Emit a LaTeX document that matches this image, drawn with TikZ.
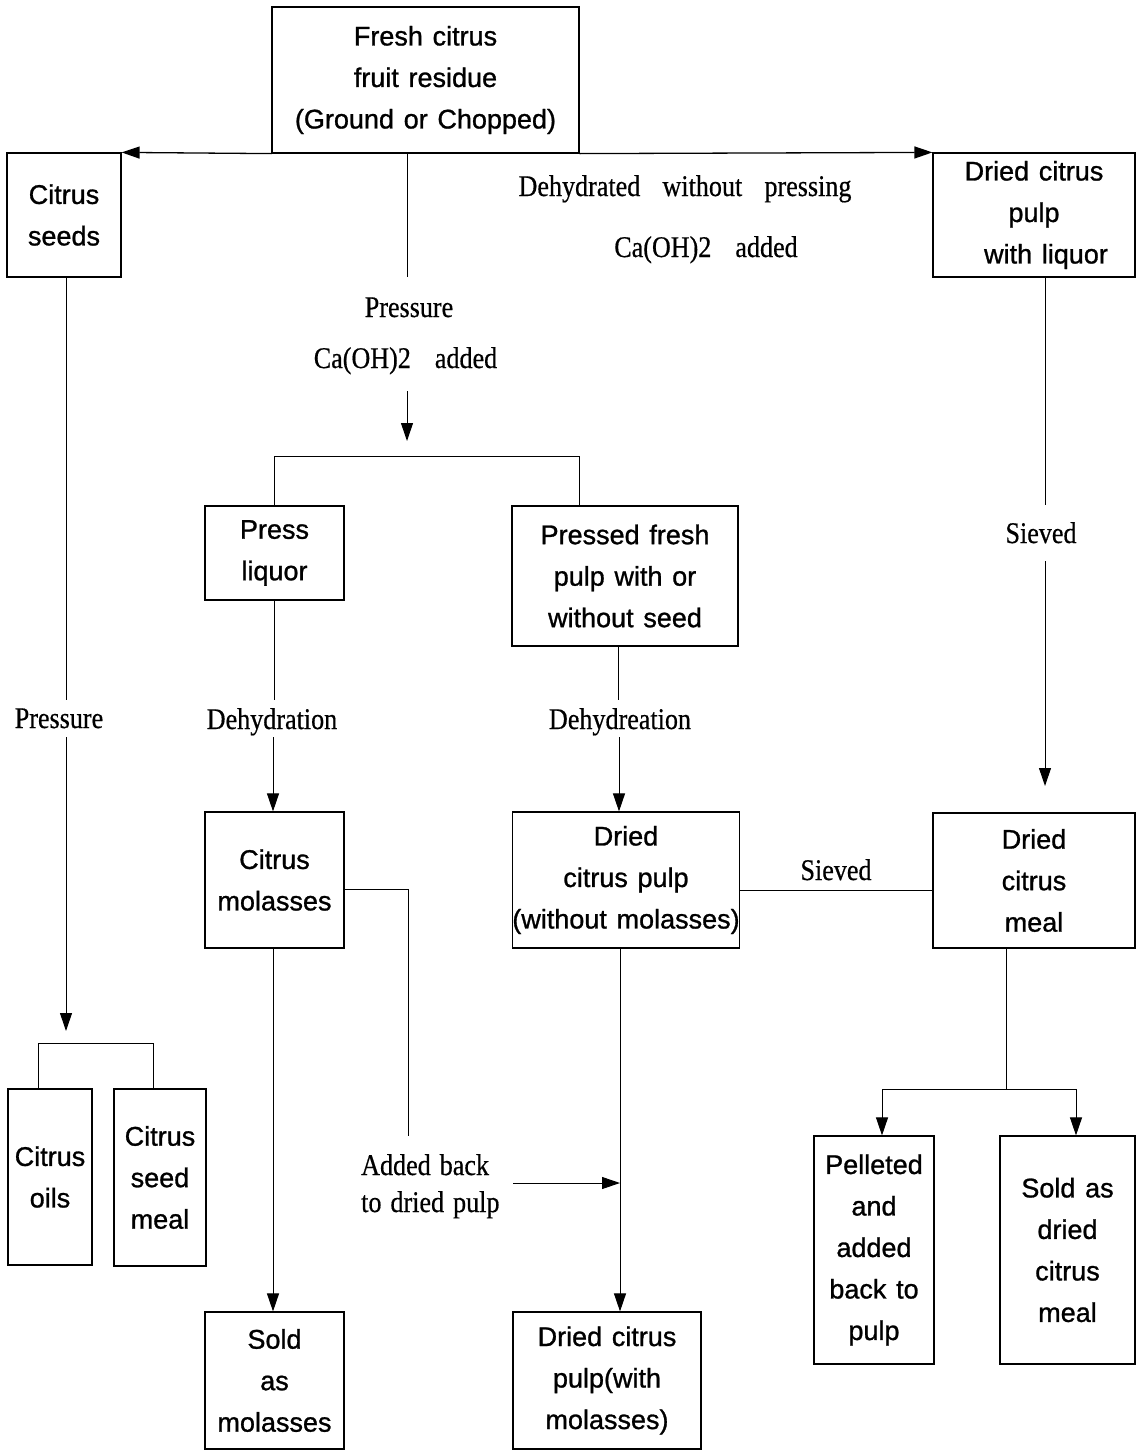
\documentclass[tikz,border=0pt]{standalone}
\usepackage{fontspec}
\setmainfont[FakeStretch=0.87,FakeBold=0.5]{Liberation Serif}
\newfontfamily\boxfamily[FakeBold=1]{Liberation Sans}
\usetikzlibrary{arrows.meta}
\newcommand\bxfont{\boxfamily\fontsize{27}{41.5}\selectfont\spaceskip=0.36em plus 0.1em\relax}
\newcommand\lbfont{\rmfamily\fontsize{30}{38}\selectfont\spaceskip=0.3em\relax}
\newcommand\lbsp[1]{\spaceskip=#1\relax}
\tikzset{
  box/.style={draw, line width=1.2pt, inner sep=0pt, align=center, font=\bxfont},
  lbl/.style={inner sep=0pt, anchor=base, font=\lbfont},
  conn/.style={draw, line width=1pt},
  arr/.style={-{Triangle[length=18pt,width=12pt]}}
}
\begin{document}
\begin{tikzpicture}[x=1pt,y=-1pt]
\useasboundingbox[fill=white] (0,0) rectangle (1140,1451);
% boxes
\node[box, minimum width=307pt, minimum height=146pt] (fresh) at (425.5,80) {\rule{0pt}{4pt}Fresh citrus\\fruit residue\\(Ground or Chopped)};
\node[box, minimum width=114pt, minimum height=124pt] (seeds) at (64,215) {Citrus\\seeds};
\node[box, minimum width=202pt, minimum height=124pt] (liquorpulp) at (1034,215) {Dried citrus\\pulp\\\hspace*{24pt}with liquor};
\node[box, minimum width=139pt, minimum height=94pt] (pressliq) at (274.5,553) {Press\\liquor};
\node[box, minimum width=226pt, minimum height=140pt] (pressed) at (625,576) {Pressed fresh\\pulp with or\\without seed};
\node[box, minimum width=139pt, minimum height=136pt] (molasses) at (274.5,880) {Citrus\\molasses};
\node[box, minimum width=226pt, minimum height=136pt] (driedpulp) at (626,880) {Dried\\citrus pulp\\(without molasses)};
\node[box, minimum width=202pt, minimum height=135pt] (meal) at (1034,880.5) {Dried\\citrus\\meal};
\node[box, minimum width=84pt, minimum height=176pt] (oils) at (50,1177) {Citrus\\oils};
\node[box, minimum width=92pt, minimum height=177pt] (seedmeal) at (160,1177.5) {Citrus\\seed\\meal};
\node[box, minimum width=139pt, minimum height=137pt] (soldmol) at (274.5,1380.5) {Sold\\as\\molasses};
\node[box, minimum width=188pt, minimum height=137pt] (withmol) at (607,1380.5) {Dried citrus\\pulp(with\\molasses)};
\node[box, minimum width=120pt, minimum height=228pt] (pelleted) at (874,1250) {Pelleted\\and\\added\\back to\\pulp};
\node[box, minimum width=135pt, minimum height=228pt] (solddried) at (1067.5,1250) {Sold as\\dried\\citrus\\meal};
% labels
\node[lbl] (ldwp) at (685,196) {\lbsp{0.74em}Dehydrated without pressing};
\node[lbl] (lca1) at (706,257) {\lbsp{0.8em}Ca(OH)2 added};
\node[lbl] (lpr1) at (409,317) {Pressure};
\node[lbl] (lca2) at (405.5,368) {\lbsp{0.8em}Ca(OH)2 added};
\node[lbl] (lpr2) at (59,728) {Pressure};
\node[lbl] (ldeh1) at (272,729) {Dehydration};
\node[lbl] (ldeh2) at (620,729) {Dehydreation};
\node[lbl] (lsv1) at (1041,543) {Sieved};
\node[lbl] (lsv2) at (836,880) {Sieved};
\node[lbl, anchor=base west] (lab1) at (361,1175) {Added back};
\node[lbl, anchor=base west] (lab2) at (361,1212) {to dried pulp};
% top connectors
\draw[conn, arr, line width=1.3pt] (fresh.south west) -- (seeds.north east);
\draw[conn, arr, line width=1.3pt] (fresh.south east) -- (liquorpulp.north west);
\coordinate (c0) at (407,153);
\coordinate (c1) at (407,277);
\draw[conn] (c0) -- (c1);
\coordinate (c2) at (407,391);
\coordinate (c3) at (407,441);
\draw[conn, arr] (c2) -- (c3);
\coordinate (sL) at (274.5,456);
\coordinate (sR) at (579,456);
\draw[conn] (pressliq.north) -- (sL) -- (sR) -- (sR |- pressed.north);
% seeds branch
\coordinate (s1) at (66,700);
\draw[conn] (s1 |- seeds.south) -- (s1);
\coordinate (s2) at (66,737);
\coordinate (s3) at (66,1031);
\draw[conn, arr] (s2) -- (s3);
\coordinate (oL) at (38,1043);
\coordinate (oR) at (153,1043);
\draw[conn] (oL |- oils.north) -- (oL) -- (oR) -- (oR |- seedmeal.north);
% press liquor branch
\coordinate (d1) at (274,700);
\draw[conn] (d1 |- pressliq.south) -- (d1);
\coordinate (d2) at (273,737);
\draw[conn, arr] (d2) -- (d2 |- molasses.north);
% pressed pulp branch
\coordinate (e1) at (618,700);
\draw[conn] (e1 |- pressed.south) -- (e1);
\coordinate (e2) at (619,737);
\draw[conn, arr] (e2) -- (e2 |- driedpulp.north);
% liquor pulp branch
\coordinate (f1) at (1045,505);
\draw[conn] (f1 |- liquorpulp.south) -- (f1);
\coordinate (f2) at (1045,561);
\coordinate (f3) at (1045,786);
\draw[conn, arr] (f2) -- (f3);
% molasses
\coordinate (g1) at (273,948);
\draw[conn, arr] (g1) -- (g1 |- soldmol.north);
\coordinate (m1) at (408,889);
\coordinate (m2) at (408,1136);
\draw[conn] (m1 -| molasses.east) -- (m1) -- (m2);
\coordinate (a1) at (513,1183);
\coordinate (a2) at (620,1183);
\draw[conn, arr] (a1) -- (a2);
\draw[conn, arr] (a2 |- driedpulp.south) -- (a2 |- withmol.north);
% sieved
\coordinate (sv) at (836,890);
\draw[conn] (sv -| driedpulp.east) -- (sv -| meal.west);
% meal branch
\coordinate (mm) at (1006,1089);
\draw[conn] (mm |- meal.south) -- (mm);
\coordinate (mL) at (882,1089);
\coordinate (mR) at (1076,1089);
\draw[conn] (mL) -- (mR);
\draw[conn, arr] (mL) -- (mL |- pelleted.north);
\draw[conn, arr] (mR) -- (mR |- solddried.north);
\end{tikzpicture}
\end{document}
